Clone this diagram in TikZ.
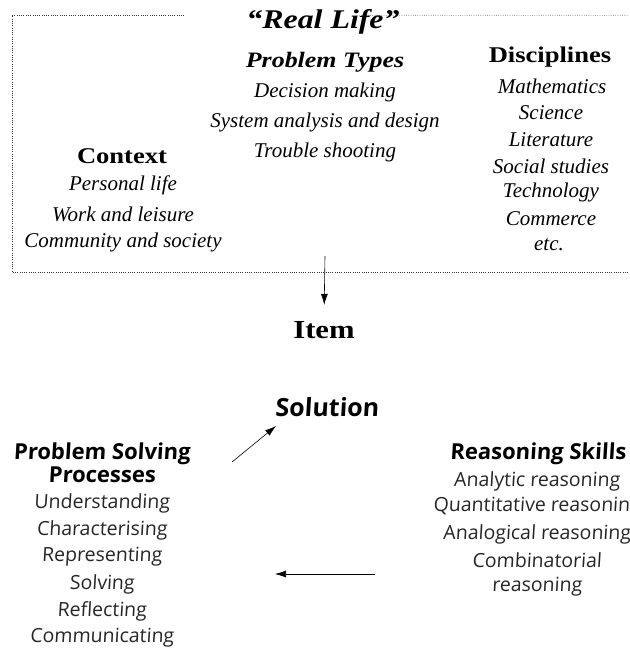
\documentclass[tikz,border=0pt]{standalone}
\usepackage{fontspec}
\setmainfont{Liberation Serif}
\newfontfamily\wideserif[FakeStretch=1.18,Ligatures=TeX]{Liberation Serif}
\newfontfamily\erasf[FakeSlant=0.06]{Open Sans}
\usetikzlibrary{arrows.meta}
\begin{document}
\begin{tikzpicture}[x=1pt,y=-1pt,
  frame/.style={draw=black!80,line width=0.75pt,dash pattern=on 0.75pt off 1.5pt},
  framedot/.style={fill=black!80},
  serhead/.style={font=\fontsize{22.5}{24}\selectfont\wideserif\bfseries, anchor=center},
  seritalhead/.style={font=\fontsize{22}{24}\selectfont\wideserif\bfseries\itshape, anchor=center},
  seritem/.style={font=\fontsize{21}{24}\selectfont\itshape, anchor=center},
  sanshead/.style={font=\fontsize{22}{24}\selectfont\erasf\bfseries, anchor=center},
  sansitem/.style={font=\fontsize{19.5}{22}\selectfont\erasf\color{black!85}, anchor=center},
  arr/.style={-{Latex[length=11pt,width=7pt]}, line width=0.6pt}]
\useasboundingbox (0,0) rectangle (629,652);
\clip (0,0) rectangle (629,652);
% Real life
\node[seritalhead, font=\fontsize{27}{30}\selectfont\wideserif\bfseries\itshape] (real) at (323,22) {“Real Life”};
\node[seritalhead] (ptypes) at (325,62) {Problem Types};
\node[seritem] (pt1) at (325,92) {Decision making};
\node[seritem] (pt2) at (325,122) {System analysis and design};
\node[seritem] (pt3) at (325,152) {Trouble shooting};
\node[serhead] (disc) at (550,57) {Disciplines};
\node[seritem] (d1) at (552,86) {Mathematics};
\node[seritem] (d2) at (551,113) {Science};
\node[seritem] (d3) at (551,140) {Literature};
\node[seritem] (d4) at (551,166) {Social studies};
\node[seritem] (d5) at (551,192) {Technology};
\node[seritem] (d6) at (551,219) {Commerce};
\node[seritem] (d7) at (549,245) {etc.};
\node[serhead] (ctx) at (122,156) {Context};
\node[seritem] (c1) at (123,185) {Personal life};
\node[seritem] (c2) at (123,214) {Work and leisure};
\node[seritem] (c3) at (123,242) {Community and society};
% frame
\draw[frame] (184,15.2) -| (12,272) -- (628.5,272);
\foreach \xx in {357,359.25,...,628.5} \fill[framedot] (\xx,15.2) circle (0.4pt);
% Item
\coordinate (fromframe) at (325,256);
\node[serhead, font=\fontsize{26}{28}\selectfont\wideserif\bfseries] (item) at (324,330) {Item};
\draw[arr, shorten >=13pt] (fromframe) -- (item.north);
% Solution
\node[sanshead, font=\fontsize{25}{28}\selectfont\erasf\bfseries] (sol) at (327,407) {Solution};
\node[sanshead] (psp) at (102,454) {Problem Solving};
\node[sanshead] (psq) at (102,475) {Processes};
\node[sansitem] (p1) at (102,503) {Understanding};
\node[sansitem] (p2) at (102,530) {Characterising};
\node[sansitem] (p3) at (102,557) {Representing};
\node[sansitem] (p4) at (102,584) {Solving};
\node[sansitem] (p5) at (102,611) {Reflecting};
\node[sansitem] (p6) at (102,638) {Communicating};
\node[sanshead] (rs) at (538,454) {Reasoning Skills};
\node[sansitem] (r1) at (537,481) {Analytic reasoning};
\node[sansitem] (r2) at (537,507) {Quantitative reasoning};
\node[sansitem] (r3) at (537,534) {Analogical reasoning};
\node[sansitem] (r4) at (537,560) {Combinatorial};
\node[sansitem] (r5) at (537,587) {reasoning};
\coordinate (da) at (232,462);
\coordinate (db) at (276,426);
\draw[arr] (da) -- (db);
\coordinate (ha) at (375,574);
\coordinate (hb) at (275,574);
\draw[arr] (ha) -- (hb);
\end{tikzpicture}
\end{document}
